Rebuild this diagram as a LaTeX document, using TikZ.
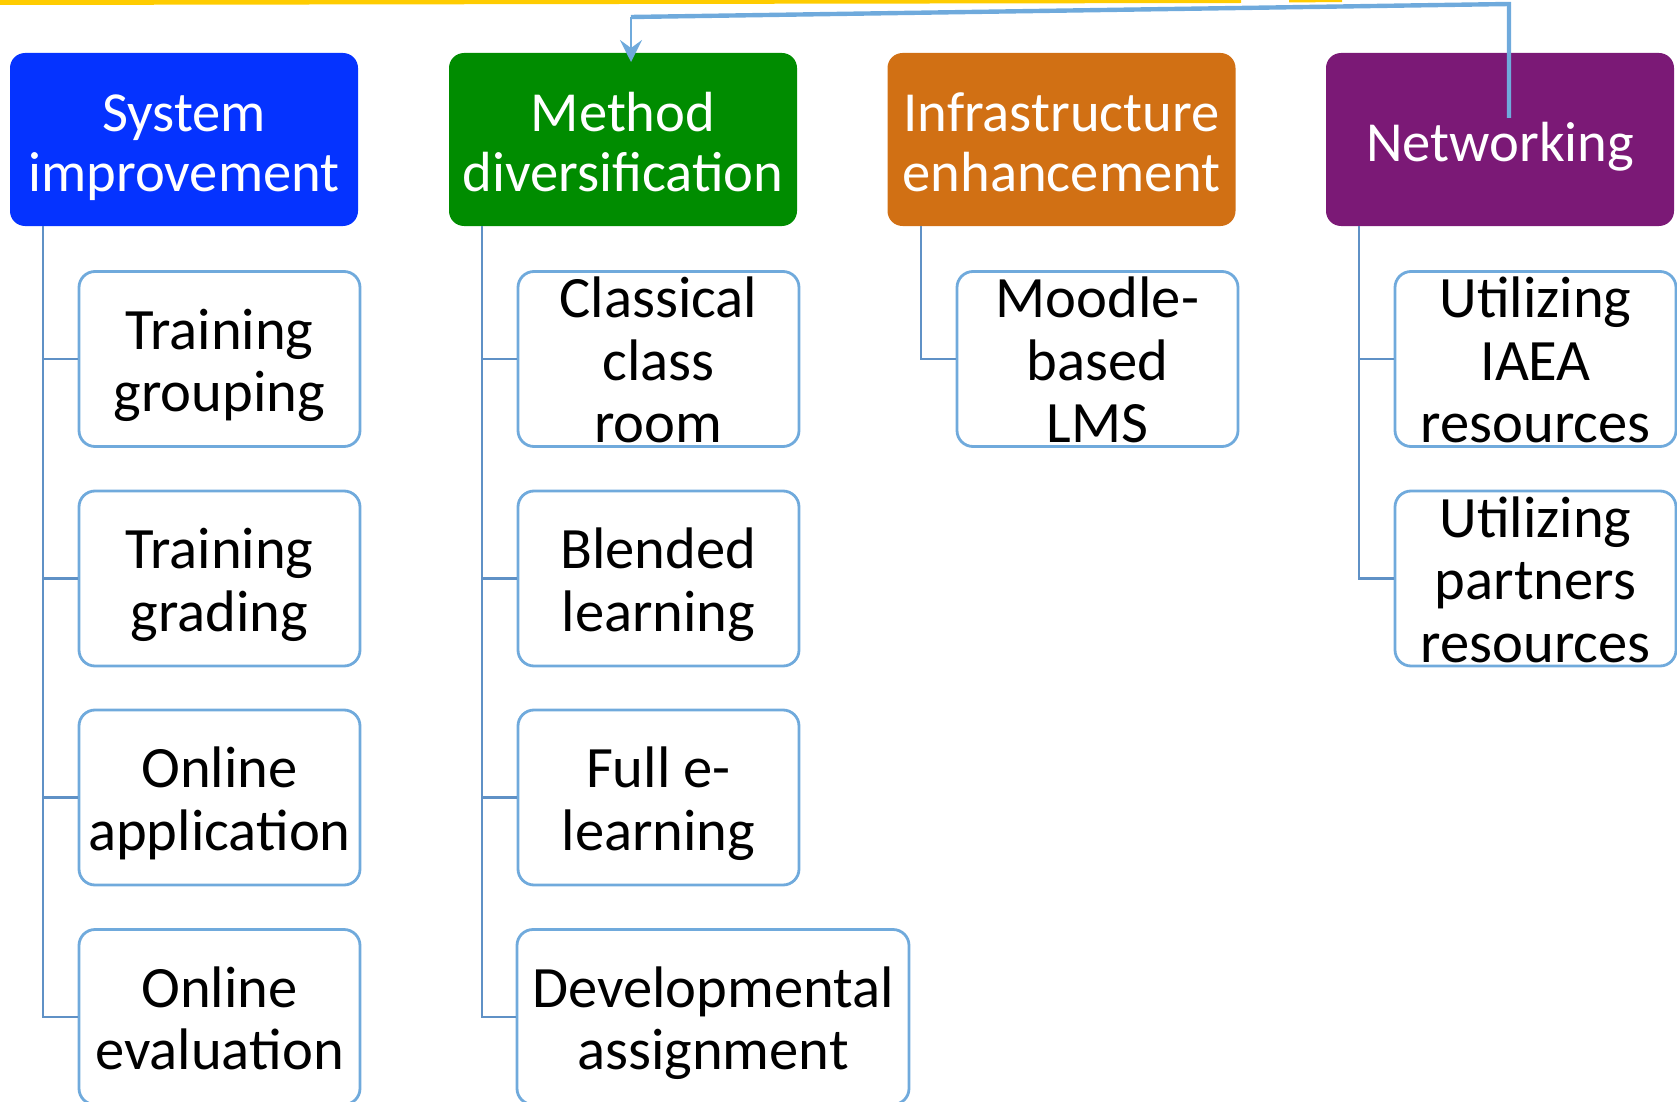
\documentclass[tikz,border=0pt]{standalone}
\usepackage{fontspec}
\setmainfont{Carlito}
\usetikzlibrary{arrows.meta}
\definecolor{hblue}{RGB}{5,51,255}
\definecolor{hgreen}{RGB}{0,140,0}
\definecolor{horange}{RGB}{209,112,20}
\definecolor{hpurple}{RGB}{123,25,118}
\definecolor{cborder}{RGB}{112,170,220}
\definecolor{tline}{RGB}{95,145,198}
\definecolor{ylw}{RGB}{255,204,0}
\definecolor{conn}{RGB}{111,170,220}
% struts fixing the first and last line of the texts
\newcommand{\HT}{\rule{0pt}{32.7pt}}
\newcommand{\HB}{\rule[-11pt]{0pt}{11pt}}
\newcommand{\CT}{\rule{0pt}{32.3pt}}
\newcommand{\CB}{\rule[-11pt]{0pt}{11pt}}
\tikzset{
  hdr/.style={rounded corners=7.5pt, minimum width=174pt, minimum height=86.5pt, inner sep=0pt,
    text=white, align=center, font=\fontsize{28.3}{30}\selectfont},
  childbox/.style={draw=cborder, line width=1.4pt, fill=white, rounded corners=8pt,
    minimum width=140.5pt, minimum height=87.5pt, inner sep=0pt},
  wchildbox/.style={childbox, minimum width=196pt},
  ctext/.style={align=center, inner sep=0pt, text=black, font=\fontsize{29.3}{31.2}\selectfont},
  tree/.style={draw=tline, line width=1.3pt},
}
\begin{document}
\begin{tikzpicture}[x=0.5pt, y=-0.5pt]
\useasboundingbox (0,0) rectangle (1677,1102);
% yellow line
\fill[ylw] (0,-1) -- (1241,-1) -- (1241,3) -- (0,5) -- cycle;
\fill[ylw] (1289,-1) -- (1342,-1) -- (1342,2) -- (1289,2.5) -- cycle;
% headers
\node[hdr, fill=hblue]   (h1) at (184,139.5)  {\HT System\\improvement\HB};
\node[hdr, fill=hgreen]  (h2) at (623,139.5)  {\HT Method\\diversification\HB};
\node[hdr, fill=horange] (h3) at (1061.5,139.5) {\HT Infrastructure\\enhancement\HB};
\node[hdr, fill=hpurple] (h4) at (1500,139.5) {\HT Networking\HB};
% column 1
\node[childbox] (a1) at (219.5,359) {};
\node[childbox] (a2) at (219.5,578.5) {};
\node[childbox] (a3) at (219.5,797.5) {};
\node[childbox] (a4) at (219.5,1017) {};
% column 2
\node[childbox] (b1) at (658.5,359) {};
\node[childbox] (b2) at (658.5,578.5) {};
\node[childbox] (b3) at (658.5,797.5) {};
\node[wchildbox] (b4) at (713,1017) {};
% column 3
\node[childbox] (c1) at (1097.5,359) {};
% column 4
\node[childbox] (d1) at (1535.5,359) {};
\node[childbox] (d2) at (1535.5,578.5) {};
% texts
\node[ctext] (ta1) at (a1) {\CT Training\\grouping\CB};
\node[ctext] (ta2) at (a2) {\CT Training\\grading\CB};
\node[ctext] (ta3) at (a3) {\CT Online\\application\CB};
\node[ctext] (ta4) at (a4) {\CT Online\\evaluation\CB};
\node[ctext] (tb1) at (b1) {\CT Classical\\class\\room\CB};
\node[ctext] (tb2) at (b2) {\CT Blended\\learning\CB};
\node[ctext] (tb3) at (b3) {\CT Full e-\\learning\CB};
\node[ctext] (tb4) at (b4) {\CT Developmental\\assignment\CB};
\node[ctext] (tc1) at (c1) {\CT Moodle-\\based\\LMS\CB};
\node[ctext] (td1) at (d1) {\CT Utilizing\\IAEA\\resources\CB};
\node[ctext] (td2) at (d2) {\CT Utilizing\\partners\\resources\CB};
% tree lines
\coordinate (v1) at (43,226);
\coordinate (v2) at (482,226);
\coordinate (v3) at (921,226);
\coordinate (v4) at (1359,226);
\draw[tree] (v1) -- (v1 |- a4.west) -- (a4.west);
\draw[tree] (v1 |- a1.west) -- (a1.west);
\draw[tree] (v1 |- a2.west) -- (a2.west);
\draw[tree] (v1 |- a3.west) -- (a3.west);
\draw[tree] (v2) -- (v2 |- b4.west) -- (b4.west);
\draw[tree] (v2 |- b1.west) -- (b1.west);
\draw[tree] (v2 |- b2.west) -- (b2.west);
\draw[tree] (v2 |- b3.west) -- (b3.west);
\draw[tree] (v3) -- (v3 |- c1.west) -- (c1.west);
\draw[tree] (v4) -- (v4 |- d2.west) -- (d2.west);
\draw[tree] (v4 |- d1.west) -- (d1.west);
% connector from Networking to Method diversification
\coordinate (nin) at (1509,118);
\coordinate (ntop) at (1509,4);
\coordinate (mtop) at (631,17);
\coordinate (mtip) at (631,62);
\draw[conn, line width=2.2pt, line join=miter] (nin) -- (ntop) -- (mtop);
\draw[conn, line width=1.2pt, -{Stealth[length=11pt,width=11pt,inset=4pt]}] (mtop) -- (mtip);
\end{tikzpicture}
\end{document}
